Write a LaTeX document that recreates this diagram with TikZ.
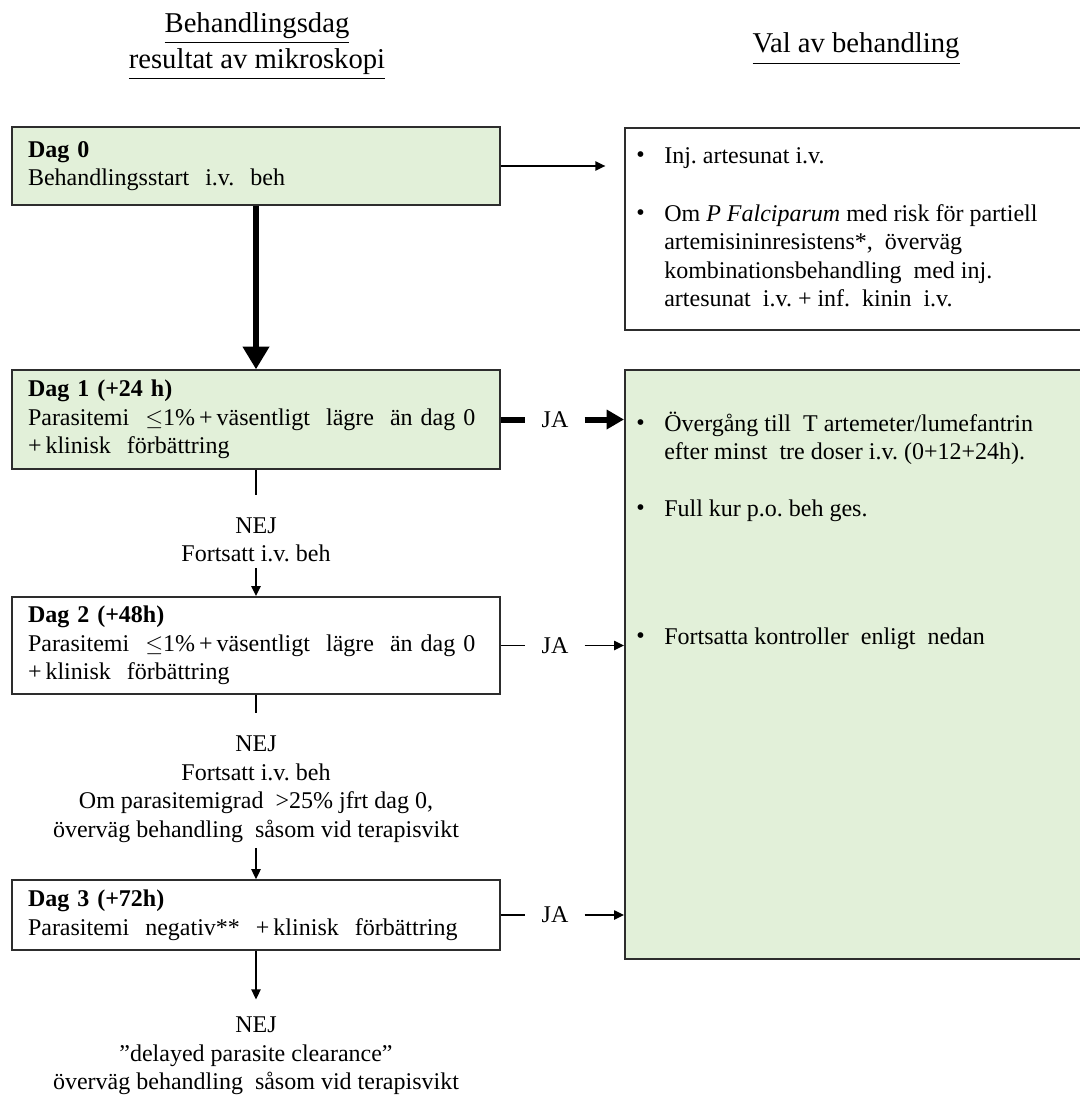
\documentclass[tikz,border=0pt]{standalone}
\usepackage{fontspec}
\setmainfont{Liberation Serif}
\usepackage{amsmath, amssymb}
\usetikzlibrary{arrows.meta}

\definecolor{ljusgron}{RGB}{226,240,217}
\definecolor{ramgra}{RGB}{45,45,45}
\newcommand{\prick}{\raisebox{0.1ex}{\textbullet}}

\begin{document}
\begin{tikzpicture}[x=0.75pt,y=0.75pt,yscale=-1,xscale=1,
  every node/.style={font=\fontsize{18}{21.4}\selectfont},
  rubrik/.style={font=\fontsize{21.5}{27}\selectfont, align=center},
  dagbox/.style={draw=ramgra, line width=1.2pt, minimum width=366pt, text width=342pt, inner xsep=12pt, align=left},
  valbox/.style={draw=ramgra, line width=1.2pt, minimum width=343.5pt, anchor=north west},
  svar/.style={align=center, inner sep=4pt},
  ja/.style={inner xsep=12pt, inner ysep=2pt},
  pil/.style={line width=1.1pt, -{Triangle[length=7.5pt,width=7pt]}},
  tjockpil/.style={line width=4.5pt, -{Triangle[length=13pt,width=14pt]}}]
\useasboundingbox (0,0) rectangle (1080,1102);

% Text Node
\node [rubrik] (rubrikL) at (257,46) {\underline{Behandlingsdag}\\\underline{resultat av mikroskopi}};
% Text Node
\node [rubrik] (rubrikR) at (856,49) {\underline{Val av behandling}};

%Flowchart: Process
\node [dagbox, fill=ljusgron, minimum height=58.5pt] (dag0) at (256,166) {\textbf{Dag 0}\\Behandlingsstart\ \ i.v.\ \ beh};
%Flowchart: Process
\node [dagbox, fill=ljusgron, minimum height=74pt] (dag1) at (256,419.5) {\textbf{Dag 1 (+24 h)}\\Parasitemi\ \ $\leq$1\%\,+\,väsentligt\ \ lägre\ \ än dag 0\\+\,klinisk\ \ förbättring};
%Flowchart: Process
\node [dagbox, minimum height=73pt] (dag2) at (256,645.5) {\textbf{Dag 2 (+48h)}\\Parasitemi\ \ $\leq$1\%\,+\,väsentligt\ \ lägre\ \ än dag 0\\+\,klinisk\ \ förbättring};
%Flowchart: Process
\node [dagbox, minimum height=52.5pt] (dag3) at (256,915) {\textbf{Dag 3 (+72h)}\\Parasitemi\ \ negativ**\ \ +\,klinisk\ \ förbättring};

% Text Node
\node [svar] (nej1) at (256,540) {NEJ\\Fortsatt i.v.\ beh};
% Text Node
\node [svar] (nej2) at (256,789) {NEJ\\Fortsatt i.v.\ beh\\Om parasitemigrad\ \ >25\%\ jfrt\ dag 0,\\överväg\ behandling\ \ såsom vid terapisvikt};
% Text Node
\node [svar] (nej3) at (256,1056) {NEJ\\”delayed\ parasite\ clearance”\\överväg\ behandling\ \ såsom vid terapisvikt};

%Shape: Rectangle
\node [valbox, minimum height=151.5pt] (behbox) at (624,127) {};
\node [anchor=north west, inner sep=0pt] (behtext) at (636,143) {\begin{tabular}[t]{@{}p{21pt}@{}l@{}}
\prick & Inj.\ artesunat\ i.v.\\[22pt]
\prick & Om \textit{P Falciparum} med risk för\ partiell\\
 & artemisininresistens*,\ \ överväg\\
 & kombinationsbehandling\ \ med inj.\\
 & artesunat\ \ i.v.\ + inf.\ \ kinin\ \ i.v.
\end{tabular}};

%Shape: Rectangle
\node [valbox, fill=ljusgron, minimum height=441.75pt] (gron) at (624,369) {};
\node [anchor=north west, inner sep=0pt] (grontext) at (636,411) {\begin{tabular}[t]{@{}p{21pt}@{}l@{}}
\prick & Övergång\ till\ \ T artemeter/lumefantrin\\
 & efter minst\ \ tre doser i.v.\ (0+12+24h).\\[21.4pt]
\prick & Full\ kur p.o.\ beh ges.\\[74.6pt]
\prick & Fortsatta\ kontroller\ \ enligt\ \ nedan
\end{tabular}};

% Text Node
\node [ja] (ja1) at (555,419.5) {JA};
\node [ja] (ja2) at (555,645.5) {JA};
\node [ja] (ja3) at (555,915) {JA};

%Straight Lines
\draw [pil, shorten >=14pt] (dag0.east) -- (dag0.east -| behbox.west);
\draw [tjockpil, -{Triangle[length=17pt,width=19pt]}, line width=5pt] (dag0.south) -- (dag1.north);
\draw [line width=4.5pt] (dag1.east) -- (ja1.west);
\draw [tjockpil] (ja1.east) -- (ja1.east -| gron.west);
\draw [line width=1.1pt] (dag2.east) -- (ja2.west);
\draw [pil] (ja2.east) -- (ja2.east -| gron.west);
\draw [line width=1.1pt] (dag3.east) -- (ja3.west);
\draw [pil] (ja3.east) -- (ja3.east -| gron.west);

\draw [line width=1.1pt, shorten >=13pt] (dag1.south) -- (nej1.north);
\draw [pil] (nej1.south) -- (dag2.north);
\draw [line width=1.1pt, shorten >=13pt] (dag2.south) -- (nej2.north);
\draw [pil] (nej2.south) -- (dag3.north);
\draw [pil, shorten >=9pt] (dag3.south) -- (nej3.north);

\end{tikzpicture}
\end{document}
